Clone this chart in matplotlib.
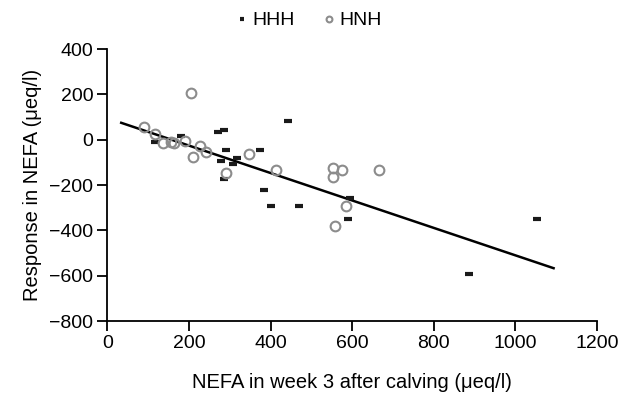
import numpy as np
import matplotlib.pyplot as plt

plt.rcParams['font.family'] = ['Liberation Sans', 'DejaVu Sans']

# HHH group (dash markers)
hhh_x = [116, 181, 272, 287, 291, 279, 317, 307, 287, 374, 443, 383, 401, 469, 595, 591, 1054, 887]
hhh_y = [-10, 17, 36, 43, -45, -92, -79, -105, -175, -45, 84, -221, -291, -291, -257, -351, -351, -591]

# HNH group (open circles)
hnh_x = [90, 117, 136, 157, 163, 191, 205, 227, 242, 211, 347, 290, 413, 552, 552, 576, 666, 584, 557]
hnh_y = [55, 25, -16, -8, -14, -4, 207, -28, -53, -78, -63, -146, -134, -126, -163, -134, -134, -291, -379]

# regression line
fit_intercept = 95.5
fit_slope = -0.605
fit_range = [34, 1094]

fig = plt.figure(figsize=(6.39, 3.96), dpi=100)
ax = fig.add_axes([0.168, 0.189, 0.766, 0.687])

fx = np.array(fit_range)
ax.plot(fx, fit_intercept + fit_slope * fx, color='black', lw=1.8, zorder=2)

ax.plot(hhh_x, hhh_y, ls='none', marker='_', ms=6, mew=3, color='#1a1a1a',
        label='HHH', zorder=3)
ax.plot(hnh_x, hnh_y, ls='none', marker='o', ms=7, mew=1.5, mfc='none',
        mec='#8c8c8c', label='HNH', zorder=3)

ax.set_xlim(0, 1200)
ax.set_ylim(-800, 400)
ax.set_xticks(range(0, 1201, 200))
ax.set_yticks(range(-800, 401, 200))
ax.set_yticklabels([f'{v}'.replace('-', '\u2212') for v in range(-800, 401, 200)])

for s in ['top', 'right']:
    ax.spines[s].set_visible(False)
for s in ['left', 'bottom']:
    ax.spines[s].set_linewidth(1.3)
ax.tick_params(direction='out', length=7, width=1.3, labelsize=14, pad=3)

ax.set_xlabel('NEFA in week 3 after calving (\u03bceq/l)', fontsize=14.5, labelpad=15)
ax.set_ylabel('Response in NEFA (\u03bceq/l)', fontsize=14.5, labelpad=5)

leg = fig.legend(handles=ax.get_lines()[1:], loc='center', bbox_to_anchor=(0.485, 0.948),
                 ncol=2, frameon=False, fontsize=14, handlelength=0.4,
                 handletextpad=0.3, columnspacing=1.6, markerscale=0.6)

fig.savefig('out.png', dpi=100)
